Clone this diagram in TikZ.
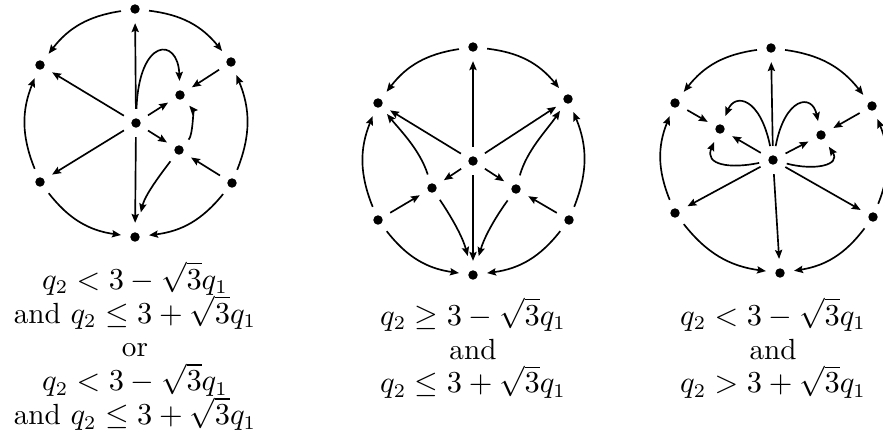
\documentclass[tikz,border=0pt]{standalone}
\usepackage{amsmath,amssymb}
\usetikzlibrary{arrows.meta}

\begin{document}
\begin{tikzpicture}[x=0.36pt,y=0.36pt,
  >={Stealth[length=3.2pt,width=2.6pt,inset=0.5pt]},
  flow/.style={->,line width=0.6pt},
  rim/.style={->,line width=0.6pt,bend #1=22},
  vtx/.style={circle,fill,inner sep=0pt,minimum size=3.4pt,outer sep=3.4pt},
  cond/.style={align=center,inner sep=0pt,anchor=north,font=\fontsize{10.5}{12.2}\selectfont}]
  \useasboundingbox (0,0) rectangle (883,441);

  \node[vtx] (top1) at (135,432) {};
  \node[vtx] (ul1) at (40,376) {};
  \node[vtx] (ur1) at (231,379) {};
  \node[vtx] (ll1) at (40,259) {};
  \node[vtx] (lr1) at (232,258) {};
  \node[vtx] (bot1) at (135,204) {};
  \node[vtx] (ctr1) at (136,318) {};
  \node[vtx] (in1a) at (180,346) {};
  \node[vtx] (in1b) at (179,291) {};
  \draw (top1) edge[rim=right] (ul1) edge[rim=left] (ur1);
  \draw (ll1) edge[rim=left] (ul1) edge[rim=right] (bot1);
  \draw (lr1) edge[rim=right] (ur1) edge[rim=left] (bot1);
  \draw[flow] (ctr1) -- (top1);
  \draw[flow] (ctr1) -- (ul1);
  \draw[flow] (ctr1) -- (ll1);
  \draw[flow] (ctr1) -- (bot1);
  \draw[flow] (ctr1) -- (in1a);
  \draw[flow] (ctr1) -- (in1b);
  \draw[flow] (ur1) -- (in1a);
  \draw[flow] (lr1) -- (in1b);
  \draw[flow] (ctr1) .. controls (139,404) and (178,404) .. (in1a);
  \draw[flow] (in1b) .. controls (193,306) and (193,331) .. (in1a);
  \draw[flow,shorten >=4pt] (in1b) .. controls (160,266) and (145,246) .. (bot1);
  \node[cond] (txt1) at (135,180) {$q_2<3-\sqrt{3}q_1$\\ and $q_2\leq 3+\sqrt{3}q_1$\\ or\\ $q_2<3-\sqrt{3}q_1$\\ and $q_2\leq 3+\sqrt{3}q_1$};

  \node[vtx] (top2) at (473,394) {};
  \node[vtx] (ul2) at (378,338) {};
  \node[vtx] (ur2) at (568,342) {};
  \node[vtx] (ll2) at (378,221) {};
  \node[vtx] (lr2) at (569,221) {};
  \node[vtx] (bot2) at (473,166) {};
  \node[vtx] (ctr2) at (473,280) {};
  \node[vtx] (in2a) at (432,253) {};
  \node[vtx] (in2b) at (516,252) {};
  \draw (top2) edge[rim=right] (ul2) edge[rim=left] (ur2);
  \draw (ll2) edge[rim=left] (ul2) edge[rim=right] (bot2);
  \draw (lr2) edge[rim=right] (ur2) edge[rim=left] (bot2);
  \draw[flow] (ctr2) -- (top2);
  \draw[flow] (ctr2) -- (ul2);
  \draw[flow] (ctr2) -- (ur2);
  \draw[flow] (ctr2) -- (bot2);
  \draw[flow] (ctr2) -- (in2a);
  \draw[flow] (ctr2) -- (in2b);
  \draw[flow] (ll2) -- (in2a);
  \draw[flow] (lr2) -- (in2b);
  \draw[flow] (in2a) .. controls (420,291) and (400,311) .. (ul2);
  \draw[flow] (in2b) .. controls (527,291) and (547,311) .. (ur2);
  \draw[flow,shorten >=2pt] (in2a) .. controls (450,226) and (462,206) .. (bot2);
  \draw[flow,shorten >=2pt] (in2b) .. controls (497,226) and (485,206) .. (bot2);
  \node[cond] (txt2) at (473,144) {$q_2\geq 3-\sqrt{3}q_1$\\ and\\ $q_2\leq 3+\sqrt{3}q_1$};

  \node[vtx] (top3) at (771,393) {};
  \node[vtx] (ul3) at (675,338) {};
  \node[vtx] (ur3) at (872,335) {};
  \node[vtx] (ll3) at (675,228) {};
  \node[vtx] (lr3) at (873,224) {};
  \node[vtx] (bot3) at (780,168) {};
  \node[vtx] (ctr3) at (773,281) {};
  \node[vtx] (in3a) at (720,312) {};
  \node[vtx] (in3b) at (821,306) {};
  \draw (top3) edge[rim=right] (ul3) edge[rim=left] (ur3);
  \draw (ll3) edge[rim=left] (ul3) edge[rim=right] (bot3);
  \draw (lr3) edge[rim=right] (ur3) edge[rim=left] (bot3);
  \draw[flow] (ctr3) -- (top3);
  \draw[flow] (ctr3) -- (ll3);
  \draw[flow] (ctr3) -- (lr3);
  \draw[flow] (ctr3) -- (bot3);
  \draw[flow] (ctr3) -- (in3a);
  \draw[flow] (ctr3) -- (in3b);
  \draw[flow] (ul3) -- (in3a);
  \draw[flow] (ur3) -- (in3b);
  \draw[flow] (ctr3) .. controls (760,344) and (735,348) .. (in3a);
  \draw[flow] (ctr3) .. controls (730,272) and (704,276) .. (in3a);
  \draw[flow] (ctr3) .. controls (785,344) and (812,348) .. (in3b);
  \draw[flow] (ctr3) .. controls (815,270) and (841,276) .. (in3b);
  \node[cond] (txt3) at (773,144) {$q_2<3-\sqrt{3}q_1$\\ and\\ $q_2>3+\sqrt{3}q_1$};
\end{tikzpicture}
\end{document}
